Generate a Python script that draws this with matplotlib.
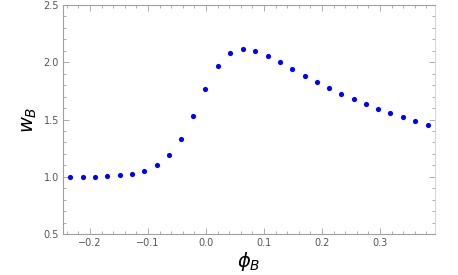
import matplotlib
matplotlib.use("Agg")
import matplotlib.pyplot as plt
from matplotlib.ticker import MultipleLocator
import numpy as np

phi_B = [-0.234, -0.213, -0.192, -0.170, -0.149, -0.128, -0.107, -0.085, -0.064, -0.043,
         -0.022, -0.001, 0.021, 0.042, 0.063, 0.085, 0.106, 0.127, 0.148, 0.170,
         0.191, 0.212, 0.233, 0.255, 0.276, 0.297, 0.318, 0.340, 0.361, 0.382]
w_B = [1.000, 1.000, 1.001, 1.006, 1.013, 1.024, 1.053, 1.100, 1.187, 1.330,
       1.533, 1.766, 1.965, 2.081, 2.118, 2.100, 2.057, 2.002, 1.941, 1.883,
       1.828, 1.775, 1.723, 1.676, 1.633, 1.592, 1.554, 1.519, 1.484, 1.452]

plt.rcParams['mathtext.fontset'] = 'dejavusans'

fig = plt.figure(figsize=(4.58, 2.75), dpi=100)
ax = fig.add_axes([0.1376, 0.1491, 0.8122, 0.8327])

ax.scatter(phi_B, w_B, s=14, color='#0000ff', zorder=3, linewidths=0)

ax.set_xlim(-0.2466, 0.3948)
ax.set_ylim(0.5, 2.5)
ax.xaxis.set_major_locator(MultipleLocator(0.1))
ax.xaxis.set_minor_locator(MultipleLocator(0.02))
ax.yaxis.set_major_locator(MultipleLocator(0.5))
ax.yaxis.set_minor_locator(MultipleLocator(0.1))
ax.xaxis.set_major_formatter(plt.FuncFormatter(lambda v, p: f"{v:.1f}".replace("-", "\u2212")))
ax.yaxis.set_major_formatter(plt.FuncFormatter(lambda v, p: f"{v:.1f}"))

for s in ax.spines.values():
    s.set_color('#a0a0a0')
    s.set_linewidth(0.8)
ax.spines['right'].set_color('#d8d8d8')

ax.tick_params(which='both', direction='in', top=True, right=True, color='#a0a0a0',
               labelsize=7, labelcolor='#555555', width=0.6)
ax.tick_params(which='major', length=4, pad=3)
ax.tick_params(which='minor', length=2)

ax.set_xlabel(r'$\phi_B$', fontsize=14, labelpad=1)
ax.set_ylabel(r'$w_B$', fontsize=14, labelpad=3)

fig.savefig('out.png', dpi=100)
